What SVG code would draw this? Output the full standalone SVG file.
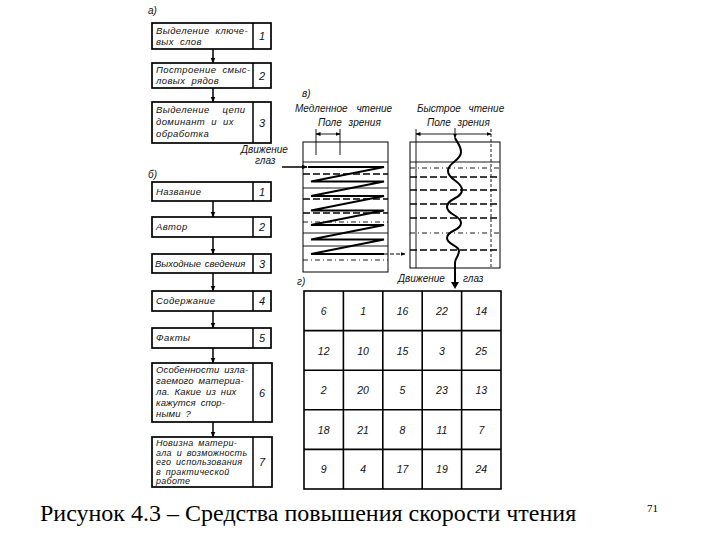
<svg xmlns="http://www.w3.org/2000/svg" width="720" height="540" viewBox="0 0 720 540">
<defs>
<marker id="ah" viewBox="0 0 10 10" refX="9" refY="5" markerWidth="6" markerHeight="6" orient="auto-start-reverse" markerUnits="userSpaceOnUse">
<path d="M0,1 L10,5 L0,9 Z" fill="#000"/>
</marker>
<marker id="ahs" viewBox="0 0 10 10" refX="9" refY="5" markerWidth="5" markerHeight="5" orient="auto-start-reverse" markerUnits="userSpaceOnUse">
<path d="M0,1 L10,5 L0,9 Z" fill="#000"/>
</marker>
<style>
.box{fill:#fff;stroke:#000;stroke-width:1.7}
.div{stroke:#000;stroke-width:1.5}
.t{font-family:"Liberation Sans",Arial,sans-serif;font-style:italic;font-size:9.5px;fill:#111;letter-spacing:0.4px;word-spacing:3px}
.t6{font-family:"Liberation Sans",Arial,sans-serif;font-style:italic;font-size:9.5px;fill:#111;letter-spacing:0.15px;word-spacing:2px}
.t2{font-family:"Liberation Sans",Arial,sans-serif;font-style:italic;font-size:9px;fill:#111;letter-spacing:0.3px;word-spacing:2px}
.n{font-family:"Liberation Sans",Arial,sans-serif;font-style:italic;font-size:11px;fill:#111;text-anchor:middle}
.lbl{font-family:"Liberation Sans",Arial,sans-serif;font-style:italic;font-size:10px;fill:#111}
.con{stroke:#000;stroke-width:1.5;fill:none}
.thin{stroke:#000;stroke-width:0.9;fill:none}
.dash{stroke:#000;stroke-width:1.4;fill:none;stroke-dasharray:7 3}
.dot{stroke:#000;stroke-width:0.9;fill:none;stroke-dasharray:5 3 1 3}
.g{stroke:#000;stroke-width:1.6;fill:none}
.gn{font-family:"Liberation Sans",Arial,sans-serif;font-style:italic;font-size:10.5px;fill:#111;text-anchor:middle}
.cap{font-family:"Liberation Serif","Times New Roman",serif;font-size:24px;fill:#000}
</style>
</defs>
<rect width="720" height="540" fill="#fff"/>

<text class="lbl" x="148" y="14">а)</text>
<g id="a1"><rect class="box" x="152" y="23" width="119" height="26"/><line class="div" x1="253" y1="23" x2="253" y2="49"/><text class="t" x="156" y="34">Выделение ключе-</text><text class="t" x="156" y="45">вых слов</text><text class="n" x="262" y="40">1</text></g>
<g id="a2"><rect class="box" x="152" y="63" width="119" height="25"/><line class="div" x1="253" y1="63" x2="253" y2="88"/><text class="t" x="156" y="73">Построение смыс-</text><text class="t" x="156" y="84">ловых рядов</text><text class="n" x="262" y="80">2</text></g>
<g id="a3"><rect class="box" x="152" y="102" width="119" height="41"/><line class="div" x1="253" y1="102" x2="253" y2="143"/><text class="t" x="156" y="113" style="word-spacing:10px">Выделение цепи</text><text class="t" x="156" y="125">доминант и их</text><text class="t" x="156" y="137">обработка</text><text class="n" x="262" y="127">3</text></g>

<text class="lbl" x="241" y="153">Движение</text>
<text class="lbl" x="255" y="164">глаз</text>

<text class="lbl" x="148" y="178">б)</text>
<g id="b1"><rect class="box" x="152" y="182" width="119" height="19"/><line class="div" x1="253" y1="182" x2="253" y2="201"/><text class="t" x="156" y="195">Название</text><text class="n" x="262" y="196">1</text></g>
<g id="b2"><rect class="box" x="152" y="217" width="119" height="20"/><line class="div" x1="253" y1="217" x2="253" y2="237"/><text class="t" x="156" y="230">Автор</text><text class="n" x="262" y="231">2</text></g>
<g id="b3"><rect class="box" x="152" y="254" width="119" height="19"/><line class="div" x1="253" y1="254" x2="253" y2="273"/><text class="t" x="155" y="267" style="letter-spacing:0;word-spacing:1px">Выходные сведения</text><text class="n" x="262" y="268">3</text></g>
<g id="b4"><rect class="box" x="152" y="291" width="119" height="20"/><line class="div" x1="253" y1="291" x2="253" y2="311"/><text class="t" x="156" y="304">Содержание</text><text class="n" x="262" y="305">4</text></g>
<g id="b5"><rect class="box" x="152" y="328" width="119" height="20"/><line class="div" x1="253" y1="328" x2="253" y2="348"/><text class="t" x="156" y="341">Факты</text><text class="n" x="262" y="342">5</text></g>
<g id="b6"><rect class="box" x="152" y="363" width="120" height="59"/><line class="div" x1="253" y1="363" x2="253" y2="422"/><text class="t6" x="156" y="373">Особенности изла-</text><text class="t6" x="156" y="384">гаемого материа-</text><text class="t6" x="156" y="395">ла. Какие из них</text><text class="t6" x="156" y="406">кажутся спор-</text><text class="t6" x="156" y="417">ными ?</text><text class="n" x="262" y="397">6</text></g>
<g id="b7"><rect class="box" x="152" y="437" width="120" height="50"/><line class="div" x1="253" y1="437" x2="253" y2="487"/><text class="t2" x="156" y="446">Новизна матери-</text><text class="t2" x="156" y="455.5">ала и возможность</text><text class="t2" x="156" y="465">его использования</text><text class="t2" x="156" y="474.5">в практической</text><text class="t2" x="156" y="484">работе</text><text class="n" x="262" y="466">7</text></g>

<g id="connectors">
<line class="con" x1="213" y1="49" x2="213" y2="63" marker-end="url(#ah)"/>
<line class="con" x1="213" y1="88" x2="213" y2="102" marker-end="url(#ah)"/>
<line class="con" x1="213" y1="201" x2="213" y2="217" marker-end="url(#ah)"/>
<line class="con" x1="213" y1="237" x2="213" y2="254" marker-end="url(#ah)"/>
<line class="con" x1="213" y1="273" x2="213" y2="291" marker-end="url(#ah)"/>
<line class="con" x1="213" y1="311" x2="213" y2="328" marker-end="url(#ah)"/>
<line class="con" x1="213" y1="348" x2="213" y2="363" marker-end="url(#ah)"/>
<line class="con" x1="213" y1="422" x2="213" y2="437" marker-end="url(#ah)"/>
</g>

<text class="lbl" x="302" y="97">в)</text>
<text class="lbl" x="295" y="112" style="word-spacing:6px">Медленное чтение</text>
<text class="lbl" x="318" y="126" style="word-spacing:4px">Поле зрения</text>
<g id="slow">
<rect x="303" y="142" width="85" height="130" fill="none" stroke="#000" stroke-width="1"/>
<line class="thin" x1="316" y1="129" x2="316" y2="155"/>
<line class="thin" x1="340" y1="129" x2="340" y2="155"/>
<line class="thin" x1="316" y1="134" x2="340" y2="134" marker-start="url(#ahs)" marker-end="url(#ahs)"/>
<line class="thin" x1="303" y1="162" x2="388" y2="162"/>
<line class="dash" x1="303" y1="174" x2="388" y2="174"/>
<line class="thin" x1="303" y1="188" x2="388" y2="188"/>
<line class="dash" x1="303" y1="199" x2="388" y2="199"/>
<line class="dash" x1="303" y1="213" x2="388" y2="213"/>
<line class="dot" x1="303" y1="222" x2="388" y2="222"/>
<line class="thin" x1="303" y1="233" x2="388" y2="233"/>
<line class="thin" x1="303" y1="246" x2="388" y2="246"/>
<line class="dot" x1="303" y1="260" x2="388" y2="260"/>
<line class="con" x1="282" y1="167" x2="307" y2="167" marker-end="url(#ah)"/>
<polyline fill="none" stroke="#000" stroke-width="1.8" points="308,167 384,167 311,181.5 384,181.5 311,196 384,196 311,210.5 384,210.5 311,225 384,225 311,239.5 384,239.5 311,254 384,254"/>
<line x1="384" y1="254" x2="405" y2="254" stroke="#000" stroke-width="1.2" stroke-dasharray="4 2" marker-end="url(#ahs)"/>
</g>

<text class="lbl" x="417" y="112" style="word-spacing:5px">Быстрое чтение</text>
<text class="lbl" x="427" y="126" style="word-spacing:4px">Поле зрения</text>
<g id="fast">
<rect x="410" y="142" width="90" height="126" fill="none" stroke="#000" stroke-width="1"/>
<line class="thin" x1="416" y1="129" x2="416" y2="268"/>
<line x1="491" y1="129" x2="491" y2="268" stroke="#000" stroke-width="0.9" stroke-dasharray="3 2"/>
<line class="thin" x1="416" y1="134" x2="491" y2="134" marker-start="url(#ahs)" marker-end="url(#ahs)"/>
<line class="thin" x1="410" y1="162" x2="500" y2="162"/>
<line class="dot" x1="410" y1="168" x2="500" y2="168"/>
<line class="dash" x1="410" y1="177" x2="500" y2="177"/>
<line class="dash" x1="410" y1="190" x2="500" y2="190"/>
<line class="dash" x1="410" y1="204" x2="500" y2="204"/>
<line class="dash" x1="410" y1="218" x2="500" y2="218"/>
<line class="dot" x1="410" y1="233" x2="500" y2="233"/>
<line class="dash" x1="410" y1="250" x2="500" y2="250"/>
<line class="thin" x1="455" y1="128" x2="455" y2="138" marker-end="url(#ahs)"/>
<path fill="none" stroke="#000" stroke-width="2" d="M455,138 C457,142 461,146 461,152 C461,161 448,162 448,171 C448,180 462,181 462,190 C462,199 447,198 447,207 C447,215 461,215 461,223 C461,231 447,230 447,238 C447,245 459,245 459,251 C459,256 455,258 455,263 L455,286"/>
<path d="M451,282 L455,289 L459,282 Z" fill="#000"/>
</g>
<text class="lbl" x="398" y="282">Движение</text>
<text class="lbl" x="463" y="282">глаз</text>

<text class="lbl" x="297" y="285">г)</text>
<g id="grid">
<rect class="g" x="304" y="291" width="197" height="198"/>
<line class="g" x1="343.4" y1="291" x2="343.4" y2="489"/>
<line class="g" x1="382.8" y1="291" x2="382.8" y2="489"/>
<line class="g" x1="422.2" y1="291" x2="422.2" y2="489"/>
<line class="g" x1="461.6" y1="291" x2="461.6" y2="489"/>
<line class="g" x1="304" y1="330.6" x2="501" y2="330.6"/>
<line class="g" x1="304" y1="370.2" x2="501" y2="370.2"/>
<line class="g" x1="304" y1="409.8" x2="501" y2="409.8"/>
<line class="g" x1="304" y1="449.4" x2="501" y2="449.4"/>
<text class="gn" x="323.7" y="315">6</text><text class="gn" x="363.1" y="315">1</text><text class="gn" x="402.5" y="315">16</text><text class="gn" x="441.9" y="315">22</text><text class="gn" x="481.3" y="315">14</text>
<text class="gn" x="323.7" y="355">12</text><text class="gn" x="363.1" y="355">10</text><text class="gn" x="402.5" y="355">15</text><text class="gn" x="441.9" y="355">3</text><text class="gn" x="481.3" y="355">25</text>
<text class="gn" x="323.7" y="394">2</text><text class="gn" x="363.1" y="394">20</text><text class="gn" x="402.5" y="394">5</text><text class="gn" x="441.9" y="394">23</text><text class="gn" x="481.3" y="394">13</text>
<text class="gn" x="323.7" y="434">18</text><text class="gn" x="363.1" y="434">21</text><text class="gn" x="402.5" y="434">8</text><text class="gn" x="441.9" y="434">11</text><text class="gn" x="481.3" y="434">7</text>
<text class="gn" x="323.7" y="473">9</text><text class="gn" x="363.1" y="473">4</text><text class="gn" x="402.5" y="473">17</text><text class="gn" x="441.9" y="473">19</text><text class="gn" x="481.3" y="473">24</text>
</g>

<text class="cap" x="40" y="521">Рисунок 4.3 – Средства повышения скорости чтения</text>
<text x="647" y="512" font-family="Liberation Serif,serif" font-size="11" fill="#000">71</text>
</svg>
